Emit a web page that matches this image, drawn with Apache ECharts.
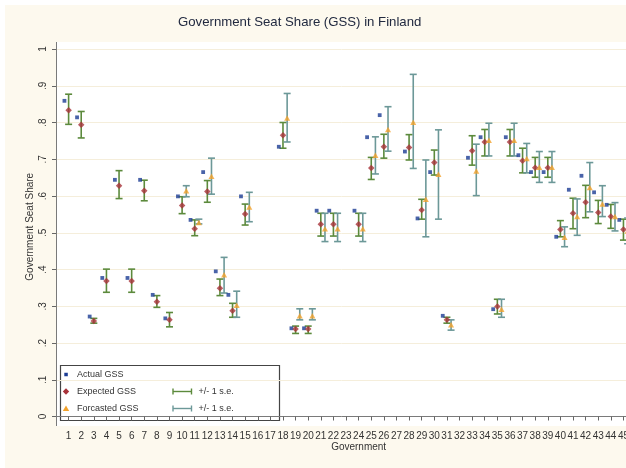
<!DOCTYPE html>
<html>
<head>
<meta charset="utf-8">
<script src="https://cdn.jsdelivr.net/npm/echarts@6/dist/echarts.min.js"></script>
<style>
  html, body { margin: 0; padding: 0; background: #ffffff; }
  #paper { position: absolute; left: 5px; top: 5px; right: 0; bottom: 0; background: #fdf9ee; }
  #main { position: absolute; left: 0; top: 0; width: 626px; height: 468px; }
</style>
</head>
<body>
<div id="paper"></div>
<div id="main"></div>
<script>
  // government number (x axis)
  var gov = [1, 2, 3, 4, 5, 6, 7, 8, 9, 10, 11, 12, 13, 14, 15, 16, 17, 18, 19, 20, 21, 22, 23,
    24, 25, 26, 27, 28, 29, 30, 31, 32, 33, 34, 35, 36, 37, 38, 39, 40, 41, 42, 43, 44, 45];
  var xTicks = [1, 2, 3, 4, 5, 6, 7, 8, 9, 10, 11, 12, 13, 14, 15, 16, 17, 18, 19, 20, 21, 22, 23, 24,
    25, 26, 27, 28, 29, 30, 31, 32, 33, 34, 35, 36, 37, 38, 39, 40, 41, 42, 43, 44, 45, 46, 47, 48];

  var actual = [.859, .814, .272, .377, .644, .377, .644, .331, .267, .599, .535, .665, .395, .331, .599,
    null, null, .734, .240, .240, .560, .560, null, .560, .760, .820, null, .721, .539, .665, .274,
    null, .704, .760, .292, .760, .711, .665, .665, .489, .617, .655, .610, .576, .535];
  var expected = [.833, .794, .260, .369, .628, .369, .614, .312, .263, .574, .511, .612, .349, .288, .551,
    null, null, .765, .238, .238, .523, .523, null, .523, .676, .734, null, .732, .562, .691, .263,
    null, .723, .747, .299, .747, .696, .677, .677, .509, .553, .583, .555, .544, .509];
  var expectedLo = [.795, .758, .254, .338, .593, .338, .587, .297, .244, .552, .492, .583, .329, .270, .521,
    null, null, .730, .226, .226, .491, .491, null, .491, .645, .703, null, .698, .537, .657, .254,
    null, .684, .709, .279, .709, .663, .651, .651, .489, .511, .541, .525, .512, .480];
  var expectedHi = [.877, .830, .267, .401, .669, .401, .643, .329, .283, .598, .535, .642, .374, .308, .578,
    null, null, .800, .246, .246, .553, .553, null, .553, .705, .768, null, .767, .591, .725, .270,
    null, .764, .781, .319, .781, .730, .705, .705, .533, .594, .629, .588, .577, .537];
  var forecast = [null, null, null, null, null, null, null, null, null, .614, .528, .654, .386, .303, .570,
    null, null, .812, .274, .274, .511, .511, null, .511, .711, .781, null, .801, .591, .659, .250,
    null, .668, .752, .292, .752, .702, .678, .678, .488, .544, .623, .578, .544, .505];
  var forecastLo = [null, null, null, null, null, null, null, null, null, .598, .524, .605, .336, .270, .530,
    null, null, .747, .263, .263, .476, .476, null, .476, .660, .722, null, .675, .489, .537, .235,
    null, .601, .709, .270, .709, .663, .637, .637, .462, .493, .557, .544, .505, .470];
  var forecastHi = [null, null, null, null, null, null, null, null, null, .628, .537, .703, .433, .341, .610,
    null, null, .879, .293, .293, .553, .553, null, .553, .761, .843, null, .931, .698, .780, .263,
    null, .741, .798, .319, .798, .743, .721, .721, .516, .592, .691, .628, .582, .540];

  var NAVY = '#1c3c94';
  var RED = '#a8323a';
  var ORANGE = '#f2a22c';
  var GREEN = '#5c8a3c';
  var TEAL = '#6c9898';
  var TXT = '#333333';
  var FONT = '"Liberation Sans", Arial, sans-serif';
  var OFF = 0.33;

  function points(vals, shift) {
    var out = [];
    for (var i = 0; i < gov.length; i++) {
      if (vals[i] != null) out.push([gov[i] + shift, vals[i]]);
    }
    return out;
  }
  function ranges(lo, hi, shift) {
    var out = [];
    for (var i = 0; i < gov.length; i++) {
      if (lo[i] != null && hi[i] != null) out.push([gov[i] + shift, lo[i], hi[i]]);
    }
    return out;
  }

  function errorBar(color) {
    return function (params, api) {
      var x = api.value(0);
      var a = api.coord([x, api.value(1)]);
      var b = api.coord([x, api.value(2)]);
      var hw = 3.5;
      var st = { stroke: color, lineWidth: 1.6 };
      return {
        type: 'group',
        children: [
          { type: 'line', shape: { x1: a[0], y1: a[1], x2: b[0], y2: b[1] }, style: st },
          { type: 'line', shape: { x1: a[0] - hw, y1: a[1], x2: a[0] + hw, y2: a[1] }, style: st },
          { type: 'line', shape: { x1: b[0] - hw, y1: b[1], x2: b[0] + hw, y2: b[1] }, style: st }
        ]
      };
    };
  }

  var chart = echarts.init(document.getElementById('main'), null, { renderer: 'canvas' });

  var legendRows = [374.5, 391.5, 408.5];

  chart.setOption({
    backgroundColor: 'transparent',
    animation: false,
    title: {
      text: 'Government Seat Share (GSS) in Finland',
      left: 173,
      top: 11,
      textStyle: { fontFamily: FONT, fontSize: 13.2, fontWeight: 'normal', color: '#222a40' }
    },
    // plot runs past the right edge of the picture, as in the cropped original
    grid: { left: 56, top: 49, width: 48 * 12.61, height: 367.5, outerBoundsMode: 'none' },
    xAxis: {
      type: 'value',
      min: 0,
      max: 48,
      interval: 1,
      offset: 10,
      name: 'Government',
      nameLocation: 'middle',
      nameGap: 16,
      nameMoveOverlap: false,
      nameTextStyle: { fontFamily: FONT, fontSize: 10, color: TXT },
      axisLine: { show: true, lineStyle: { color: '#7a7a7a', width: 1 } },
      axisTick: { show: true, length: 4, customValues: xTicks, lineStyle: { color: '#666' } },
      axisLabel: {
        customValues: xTicks,
        margin: 5,
        fontFamily: FONT, fontSize: 10, color: TXT,
        hideOverlap: false
      },
      splitLine: { show: false }
    },
    yAxis: {
      type: 'value',
      min: 0,
      max: 1,
      interval: 0.1,
      name: 'Government Seat Share',
      nameLocation: 'middle',
      nameRotate: 90,
      nameGap: 21,
      nameMoveOverlap: false,
      nameTextStyle: { fontFamily: FONT, fontSize: 10, color: TXT, padding: [0, 0, 0, 12] },
      axisLine: { show: false },
      axisTick: { show: true, length: 4, lineStyle: { color: '#666' } },
      axisLabel: {
        rotate: 90,
        margin: 8,
        fontFamily: FONT, fontSize: 10, color: TXT,
        formatter: function (v) {
          if (Math.abs(v) < 1e-9) return '0';
          if (Math.abs(v - 1) < 1e-9) return '1';
          return v.toFixed(1).replace(/^0/, '');
        }
      },
      splitLine: { show: true, lineStyle: { color: '#f5eedb', width: 1 } }
    },
    graphic: [
      { type: 'rect', z: -100, silent: true, shape: { x: 56, y: 42, width: 580, height: 384 }, style: { fill: '#ffffff' } },
      { type: 'line', z: 50, silent: true, shape: { x1: 56.5, y1: 42, x2: 56.5, y2: 426 }, style: { stroke: '#7a7a7a', lineWidth: 1 } },
      {
        type: 'group', z: 100, silent: true,
        children: [
          { type: 'rect', shape: { x: 60.5, y: 365.5, width: 219, height: 55 }, style: { fill: '#ffffff', stroke: '#444', lineWidth: 1.2 } },
          { type: 'rect', shape: { x: 64.3, y: legendRows[0] - 1.75, width: 3.5, height: 3.5 }, style: { fill: NAVY } },
          { type: 'polygon', shape: { points: [[66, legendRows[1] - 3.2], [69.2, legendRows[1]], [66, legendRows[1] + 3.2], [62.8, legendRows[1]]] }, style: { fill: RED } },
          { type: 'polygon', shape: { points: [[66, legendRows[2] - 3], [69.2, legendRows[2] + 2.5], [62.8, legendRows[2] + 2.5]] }, style: { fill: ORANGE } },
          { type: 'text', x: 77, y: legendRows[0], style: { text: 'Actual GSS', font: '9px ' + FONT, fill: TXT, verticalAlign: 'middle' } },
          { type: 'text', x: 77, y: legendRows[1], style: { text: 'Expected GSS', font: '9px ' + FONT, fill: TXT, verticalAlign: 'middle' } },
          { type: 'text', x: 77, y: legendRows[2], style: { text: 'Forcasted GSS', font: '9px ' + FONT, fill: TXT, verticalAlign: 'middle' } },
          { type: 'line', shape: { x1: 173, y1: legendRows[1], x2: 191.5, y2: legendRows[1] }, style: { stroke: GREEN, lineWidth: 1.4 } },
          { type: 'line', shape: { x1: 173, y1: legendRows[1] - 3, x2: 173, y2: legendRows[1] + 3 }, style: { stroke: GREEN, lineWidth: 1.4 } },
          { type: 'line', shape: { x1: 191.5, y1: legendRows[1] - 3, x2: 191.5, y2: legendRows[1] + 3 }, style: { stroke: GREEN, lineWidth: 1.4 } },
          { type: 'line', shape: { x1: 173, y1: legendRows[2], x2: 191.5, y2: legendRows[2] }, style: { stroke: TEAL, lineWidth: 1.4 } },
          { type: 'line', shape: { x1: 173, y1: legendRows[2] - 3, x2: 173, y2: legendRows[2] + 3 }, style: { stroke: TEAL, lineWidth: 1.4 } },
          { type: 'line', shape: { x1: 191.5, y1: legendRows[2] - 3, x2: 191.5, y2: legendRows[2] + 3 }, style: { stroke: TEAL, lineWidth: 1.4 } },
          { type: 'text', x: 198.5, y: legendRows[1], style: { text: '+/- 1 s.e.', font: '9px ' + FONT, fill: TXT, verticalAlign: 'middle' } },
          { type: 'text', x: 198.5, y: legendRows[2], style: { text: '+/- 1 s.e.', font: '9px ' + FONT, fill: TXT, verticalAlign: 'middle' } }
        ]
      }
    ],
    series: [
      {
        name: 'Expected +/- 1 s.e.',
        type: 'custom',
        z: 3,
        renderItem: errorBar(GREEN),
        encode: { x: 0, y: [1, 2] },
        data: ranges(expectedLo, expectedHi, 0)
      },
      {
        name: 'Forcasted +/- 1 s.e.',
        type: 'custom',
        z: 3,
        renderItem: errorBar(TEAL),
        encode: { x: 0, y: [1, 2] },
        data: ranges(forecastLo, forecastHi, OFF)
      },
      {
        name: 'Actual GSS',
        type: 'scatter',
        z: 5,
        symbol: 'rect',
        symbolSize: 3.8,
        itemStyle: { color: NAVY },
        data: points(actual, -OFF)
      },
      {
        name: 'Expected GSS',
        type: 'scatter',
        z: 5,
        symbol: 'diamond',
        symbolSize: [6.5, 6.5],
        itemStyle: { color: RED },
        data: points(expected, 0)
      },
      {
        name: 'Forcasted GSS',
        type: 'scatter',
        z: 5,
        symbol: 'triangle',
        symbolSize: [6, 5.5],
        itemStyle: { color: ORANGE },
        data: points(forecast, OFF)
      }
    ]
  });
</script>
</body>
</html>
